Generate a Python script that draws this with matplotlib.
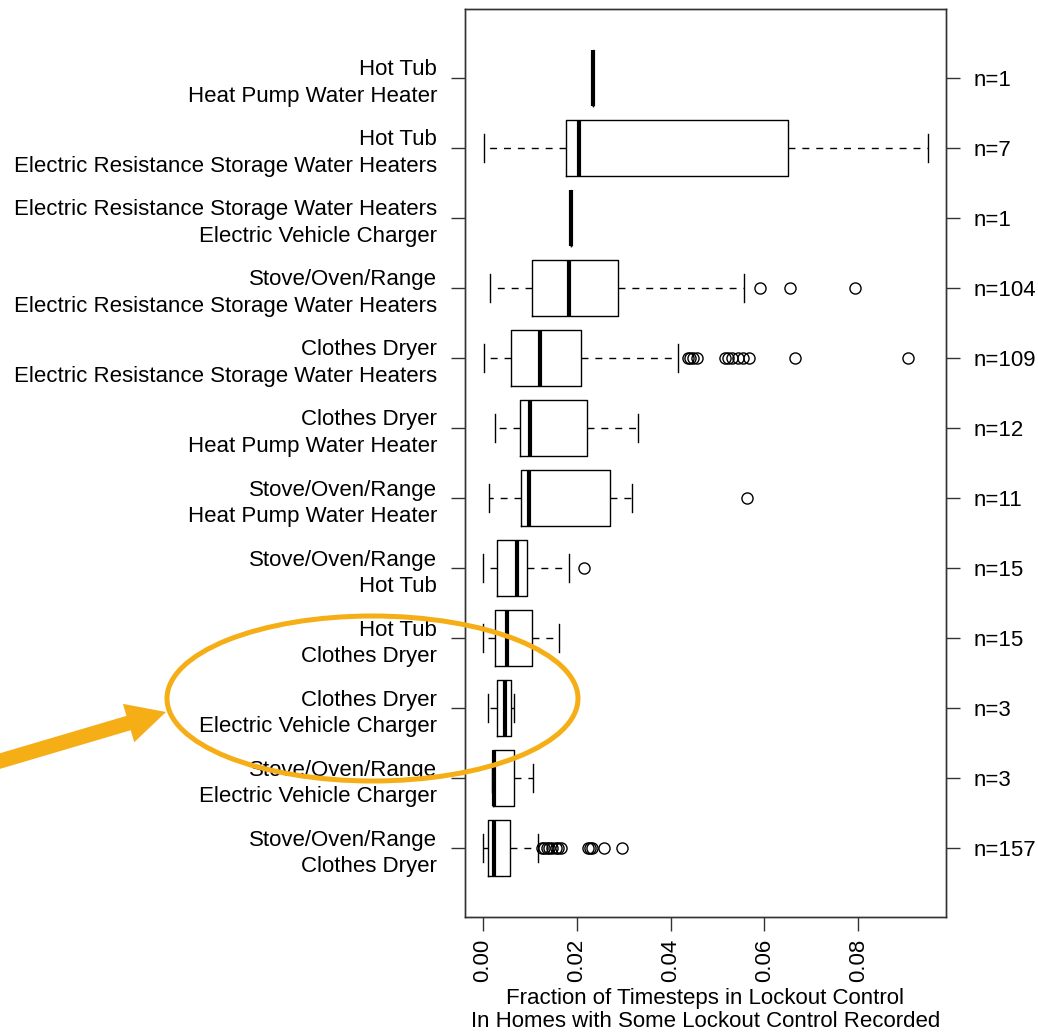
import matplotlib
matplotlib.use("Agg")
import matplotlib.pyplot as plt
import matplotlib.patches as mpatches
import matplotlib.transforms as mtrans
import numpy as np

plt.rcParams.update({
    "font.family": ["Liberation Sans", "DejaVu Sans"],
    "font.size": 16,
    "axes.linewidth": 1.0,
    "axes.edgecolor": "#333333",
})

# rows, top to bottom
labels = [
    "Hot Tub\nHeat Pump Water Heater",
    "Hot Tub\nElectric Resistance Storage Water Heaters",
    "Electric Resistance Storage Water Heaters\nElectric Vehicle Charger",
    "Stove/Oven/Range\nElectric Resistance Storage Water Heaters",
    "Clothes Dryer\nElectric Resistance Storage Water Heaters",
    "Clothes Dryer\nHeat Pump Water Heater",
    "Stove/Oven/Range\nHeat Pump Water Heater",
    "Stove/Oven/Range\nHot Tub",
    "Hot Tub\nClothes Dryer",
    "Clothes Dryer\nElectric Vehicle Charger",
    "Stove/Oven/Range\nElectric Vehicle Charger",
    "Stove/Oven/Range\nClothes Dryer",
]
counts = [1, 7, 1, 104, 109, 12, 11, 15, 15, 3, 3, 157]
whis_lo = [0.0234, 0.0003, 0.0187, 0.0016, 0.0003, 0.0025, 0.0013, 0.0001, 0.0000, 0.0011, 0.0019, 0.0000]
q1      = [0.0234, 0.0177, 0.0187, 0.0104, 0.0059, 0.0079, 0.0081, 0.0031, 0.0025, 0.0030, 0.0021, 0.0011]
med     = [0.0234, 0.0204, 0.0187, 0.0183, 0.0122, 0.0101, 0.0099, 0.0072, 0.0052, 0.0048, 0.0023, 0.0023]
q3      = [0.0234, 0.0651, 0.0187, 0.0289, 0.0210, 0.0223, 0.0270, 0.0094, 0.0104, 0.0059, 0.0066, 0.0057]
whis_hi = [0.0234, 0.0949, 0.0187, 0.0556, 0.0416, 0.0330, 0.0317, 0.0184, 0.0163, 0.0067, 0.0107, 0.0118]
outliers = [
    [], [], [],
    [0.0591, 0.0655, 0.0794],
    [0.0437, 0.0442, 0.0447, 0.0457, 0.0516, 0.0522, 0.0531, 0.0543, 0.0555,
     0.0567, 0.0666, 0.0906],
    [],
    [0.0564],
    [0.0216],
    [], [], [],
    [0.0126, 0.0131, 0.0136, 0.0142, 0.0148, 0.0155, 0.0160, 0.0166, 0.0224,
     0.0228, 0.0233, 0.0259, 0.0297],
]
xticks = [0.00, 0.02, 0.04, 0.06, 0.08]

ORANGE = "#F6AE17"
W, H = 1038, 1035

fig = plt.figure(figsize=(W / 100, H / 100), dpi=100)
ax = fig.add_axes([465 / W, 1 - 917 / H, (946 - 465) / W, (917 - 9) / H])

n = len(labels)
pos = np.arange(n, 0, -1)
stats = [dict(whislo=whis_lo[i], q1=q1[i], med=med[i], q3=q3[i],
              whishi=whis_hi[i], fliers=outliers[i]) for i in range(n)]

ax.bxp(stats, positions=pos, orientation="horizontal", widths=0.8, capwidths=0.4,
       boxprops=dict(color="black", linewidth=1.0),
       medianprops=dict(color="black", linewidth=3.0, solid_capstyle="butt"),
       whiskerprops=dict(color="black", linewidth=1.0, linestyle=(0, (5, 5))),
       capprops=dict(color="black", linewidth=1.0),
       flierprops=dict(marker="o", markerfacecolor="none", markeredgecolor="black",
                       markersize=8, markeredgewidth=1.0))

ax.set_xlim(-0.0038, 0.0987)
ax.set_ylim(0.02, 12.98)
ax.set_xticks(xticks)
ax.set_xticklabels([f"{v:.2f}" for v in xticks], rotation=90)
ax.set_yticks(pos)
ax.set_yticklabels(labels)
for lbl in ax.get_yticklabels():
    lbl.set_linespacing(1.35)
ax.tick_params(axis="both", length=10, width=1.0, color="#333333", pad=10)
ax.tick_params(axis="x", pad=6)
ax.set_xlabel("Fraction of Timesteps in Lockout Control\n"
              "In Homes with Some Lockout Control Recorded", labelpad=4, linespacing=1.15)

ax2 = ax.twinx()
ax2.set_ylim(ax.get_ylim())
ax2.set_yticks(pos)
ax2.set_yticklabels([f"n={c}" for c in counts])
ax2.tick_params(axis="y", length=10, width=1.0, color="#333333", pad=10)

# annotation: ellipse and arrow, placed in figure pixels (y up)
px = mtrans.Affine2D().scale(1 / 100) + fig.dpi_scale_trans
ell = mpatches.Ellipse((372.5, H - 698.5), 411, 165, fill=False, edgecolor=ORANGE,
                       linewidth=3.6, transform=px, clip_on=False, zorder=10)
fig.add_artist(ell)
arr = mpatches.FancyArrow(-10, H - 764, 176, 52, width=15, head_width=40,
                          head_length=39, length_includes_head=True,
                          color=ORANGE, linewidth=0, transform=px, zorder=10)
fig.add_artist(arr)

fig.savefig("out.png", dpi=100)
